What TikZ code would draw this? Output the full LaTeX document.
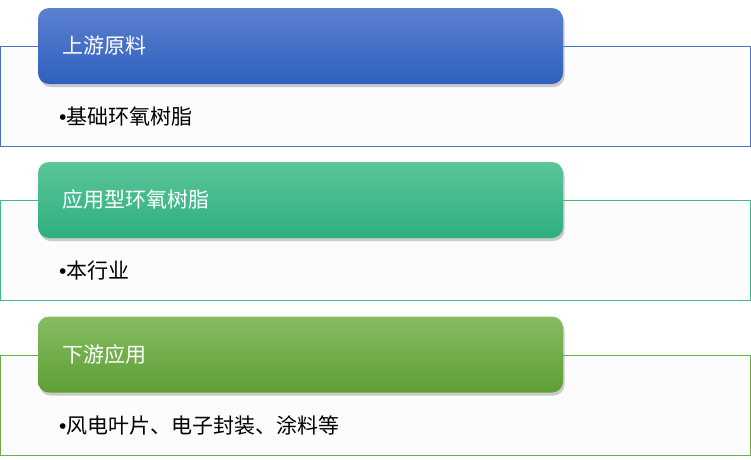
\documentclass[tikz,border=0pt]{standalone}
\usepackage{fontspec}
\setmainfont{Liberation Sans}
\newfontfamily\cjk{Noto Sans CJK SC}
\usetikzlibrary{shadows}
\definecolor{upline}{HTML}{4472C4}
\definecolor{uptop}{HTML}{5B80D0}
\definecolor{upbot}{HTML}{2F60BE}
\definecolor{midline}{HTML}{43B884}
\definecolor{midtop}{HTML}{5CC59A}
\definecolor{midbot}{HTML}{2DAF7E}
\definecolor{downline}{HTML}{70AD47}
\definecolor{downtop}{HTML}{86BC62}
\definecolor{downbot}{HTML}{5E9F34}
\begin{document}
\begin{tikzpicture}[x=1pt,y=-1pt,
    panel/.style={draw=#1,line width=0.8pt,fill={rgb,255:red,252;green,252;blue,252},
      minimum width=749.5pt,minimum height=100pt,inner sep=0pt},
    head/.style 2 args={rounded corners=11pt,top color=#1,bottom color=#2,
      drop shadow={shadow xshift=1.5pt,shadow yshift=-3pt,opacity=0.4},
      minimum width=525pt,minimum height=76pt,text width=477pt,inner xsep=24pt,
      align=left,text=white,font=\cjk\fontsize{21pt}{25pt}\selectfont},
    item/.style={anchor=west,inner sep=0pt,font=\fontsize{21pt}{25pt}\selectfont}]
    \useasboundingbox (0,0) rectangle (751,459);
    % upstream
    \node[panel=upline] (rawbox) at (375.25,96.5) {};
    \node[head={uptop}{upbot}] (rawhead) at (300.5,46) {上游原料};
    \node[item] (rawtxt) at (59,117) {•{\cjk 基础环氧树脂}};
    % this industry
    \node[panel=midline] (midbox) at (375.25,250.5) {};
    \node[head={midtop}{midbot}] (midhead) at (300.5,200) {应用型环氧树脂};
    \node[item] (midtxt) at (59,271) {•{\cjk 本行业}};
    % downstream
    \node[panel=downline] (downbox) at (375.25,405) {};
    \node[head={downtop}{downbot}] (downhead) at (300.5,354.5) {下游应用};
    \node[item] (downtxt) at (59,425) {•{\cjk 风电叶片、电子封装、涂料等}};
\end{tikzpicture}
\end{document}
